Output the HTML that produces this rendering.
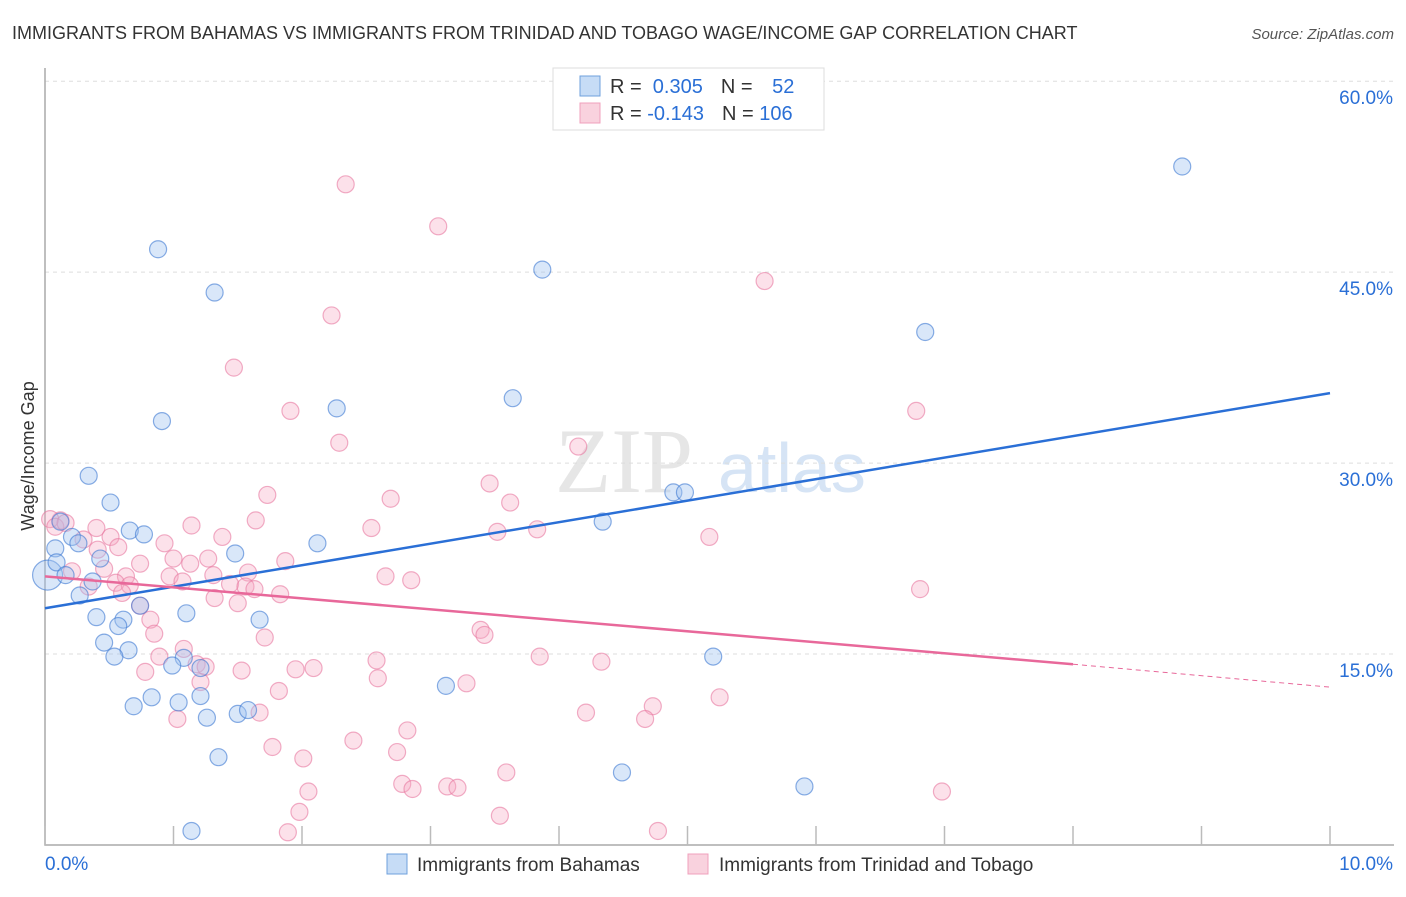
<!DOCTYPE html>
<html><head><meta charset="utf-8"><style>
body{margin:0;background:#fff;font-family:"Liberation Sans",sans-serif}
</style></head><body>
<svg width="1406" height="892" xmlns="http://www.w3.org/2000/svg" font-family="Liberation Sans, sans-serif">
<text x="12" y="39" font-size="18" fill="#333">IMMIGRANTS FROM BAHAMAS VS IMMIGRANTS FROM TRINIDAD AND TOBAGO WAGE/INCOME GAP CORRELATION CHART</text>
<text x="1394" y="39" font-size="15" fill="#555" text-anchor="end" font-style="italic">Source: ZipAtlas.com</text>
<text x="34" y="456" font-size="18" fill="#333" text-anchor="middle" transform="rotate(-90 34 456)">Wage/Income Gap</text>
<g><text x="555" y="492" font-size="92" font-family="Liberation Serif, serif" fill="#e6e6e6">ZIP</text><text x="718" y="492" font-size="70" fill="#d6e4f5">atlas</text></g>
<g id="grid"></g><g id="axes"></g><g id="marks"></g><g id="lines"></g>
<g>
<rect x="553" y="68" width="271" height="62" fill="#fff" stroke="#ddd"/>
<rect x="580" y="76" width="20" height="20" fill="rgba(160,196,240,0.6)" stroke="#6fa0dc"/>
<rect x="580" y="103" width="20" height="20" fill="rgba(245,180,200,0.6)" stroke="#f0a0bc"/>
<text x="610" y="93" font-size="20" fill="#333">R = <tspan fill="#2a6fd6">&#160;0.305</tspan><tspan dx="18">N = </tspan><tspan fill="#2a6fd6" dx="14">52</tspan></text>
<text x="610" y="120" font-size="20" fill="#333">R = <tspan fill="#2a6fd6">-0.143</tspan><tspan dx="18">N = </tspan><tspan fill="#2a6fd6">106</tspan></text>
</g>
<g>
<rect x="387" y="854" width="20" height="20" fill="rgba(160,196,240,0.6)" stroke="#6fa0dc"/>
<text x="417" y="871" font-size="19" fill="#333">Immigrants from Bahamas</text>
<rect x="688" y="854" width="20" height="20" fill="rgba(245,180,200,0.6)" stroke="#f0a0bc"/>
<text x="719" y="871" font-size="19" fill="#333">Immigrants from Trinidad and Tobago</text>
</g>
</svg>
<script>
const yTicks=[15,30,45,60];
const yTickLabels=["15.0%","30.0%","45.0%","60.0%"];
const xTickVals=[0,1,2,3,4,5,6,7,8,9,10];
const blueX=[8.85,0.88,1.32,3.87,6.85,2.27,3.64,0.91,0.34,0.51,4.89,4.98,4.34,0.66,0.77,2.12,1.48,0.21,0.12,0.08,0.02,0.09,0.16,0.26,0.43,0.37,0.27,0.40,0.74,1.10,1.67,0.61,0.57,0.46,0.65,0.54,1.08,0.99,1.21,1.21,0.83,1.04,0.69,1.26,1.50,1.58,1.35,1.14,3.12,5.20,4.49,5.91];
const blueY=[53.3,46.8,43.4,45.2,40.3,34.3,35.1,33.3,29.0,26.9,27.7,27.7,25.4,24.7,24.4,23.7,22.9,24.2,25.4,23.3,21.2,22.2,21.2,23.7,22.5,20.7,19.6,17.9,18.8,18.2,17.7,17.7,17.2,15.9,15.3,14.8,14.7,14.1,13.9,11.7,11.6,11.2,10.9,10.0,10.3,10.6,6.9,1.1,12.5,14.8,5.7,4.6];
const pinkX=[2.34,3.06,5.60,2.23,1.47,1.91,6.78,2.29,4.15,3.46,1.73,2.69,3.62,1.64,2.54,3.52,3.83,5.17,0.12,0.04,0.08,0.16,0.40,0.30,0.51,1.14,0.93,1.38,0.57,0.41,1.00,1.27,0.74,1.13,1.87,0.21,0.46,0.63,0.97,1.31,1.58,1.07,0.55,1.44,2.65,2.85,0.66,1.56,1.63,0.34,0.60,1.83,1.32,1.50,6.81,0.74,0.82,0.85,1.71,3.39,3.42,1.08,0.89,1.18,1.25,2.58,3.85,4.33,1.53,1.95,2.09,0.78,2.59,3.28,1.21,1.82,4.73,5.25,4.21,4.67,1.67,1.03,2.82,2.40,1.77,2.74,2.01,3.59,2.78,2.86,3.13,3.21,2.05,6.98,1.98,3.54,1.89,4.77];
const pinkY=[51.9,48.6,44.3,41.6,37.5,34.1,34.1,31.6,31.3,28.4,27.5,27.2,26.9,25.5,24.9,24.6,24.8,24.2,25.5,25.6,25.0,25.3,24.9,24.0,24.2,25.1,23.7,24.2,23.4,23.2,22.5,22.5,22.1,22.1,22.3,21.5,21.7,21.1,21.1,21.2,21.4,20.7,20.6,20.5,21.1,20.8,20.4,20.3,20.1,20.3,19.8,19.7,19.4,19.0,20.1,18.8,17.7,16.6,16.3,16.9,16.5,15.4,14.8,14.2,14.0,14.5,14.8,14.4,13.7,13.8,13.9,13.6,13.1,12.7,12.8,12.1,10.9,11.6,10.4,9.9,10.4,9.9,9.0,8.2,7.7,7.3,6.8,5.7,4.8,4.4,4.6,4.5,4.2,4.2,2.6,2.3,1.0,1.1];
const blueTrend=[[0,18.6],[10,35.5]];
const pinkTrend=[[0,21.1],[8,14.2],[10,12.4]];
const NS="http://www.w3.org/2000/svg";
const X=v=>45+v*128.5, Y=v=>845-v*12.73;
function mk(t,a,p){const e=document.createElementNS(NS,t);for(const k in a)e.setAttribute(k,a[k]);document.getElementById(p).appendChild(e);return e;}
yTicks.forEach((t,i)=>{
 let l=mk('line',{x1:45,x2:1394,y1:Y(t),y2:Y(t),stroke:'#ddd','stroke-dasharray':'4,4'},'grid');
 
 
 let tx=mk('text',{x:1393,y:Y(t)+23,'font-size':19,fill:'#2a6fd6','text-anchor':'end'},'grid');tx.textContent=yTickLabels[i];
 
 
});
let ax=mk('path',{d:'M45 68V845H1394',fill:'none',stroke:'#aaa','stroke-width':1.5},'axes');


xTickVals.forEach(v=>{let t=mk('line',{x1:X(v),x2:X(v),y1:826,y2:845,stroke:'#bbb','stroke-width':1.5},'axes');
 
 });
let xl0=mk('text',{x:45,y:870,'font-size':19,fill:'#2a6fd6'},'axes');xl0.textContent='0.0%';


let xl1=mk('text',{x:1393,y:870,'font-size':19,fill:'#2a6fd6','text-anchor':'end'},'axes');xl1.textContent='10.0%';


pinkX.forEach((x,i)=>{let c=mk('circle',{cx:X(x),cy:Y(pinkY[i]),r:8.5,fill:'rgba(245,170,195,0.35)',stroke:'rgba(232,120,160,0.6)','stroke-width':1.2},'marks');
 
 });
blueX.forEach((x,i)=>{let c=mk('circle',{cx:X(x),cy:Y(blueY[i]),r:(i==20?15:8.5),fill:'rgba(160,196,240,0.4)',stroke:'rgba(60,120,210,0.6)','stroke-width':1.2},'marks');
 
 });
let bl=mk('line',{x1:X(blueTrend[0][0]),y1:Y(blueTrend[0][1]),x2:X(blueTrend[1][0]),y2:Y(blueTrend[1][1]),stroke:'#2a6fd6','stroke-width':2.5},'lines');


let pl=mk('line',{x1:X(pinkTrend[0][0]),y1:Y(pinkTrend[0][1]),x2:X(pinkTrend[1][0]),y2:Y(pinkTrend[1][1]),stroke:'#e8689a','stroke-width':2.5},'lines');


let pd=mk('line',{x1:X(pinkTrend[1][0]),y1:Y(pinkTrend[1][1]),x2:X(pinkTrend[2][0]),y2:Y(pinkTrend[2][1]),stroke:'#e8689a','stroke-width':1,'stroke-dasharray':'5,4'},'lines');


</script>
</body></html>
